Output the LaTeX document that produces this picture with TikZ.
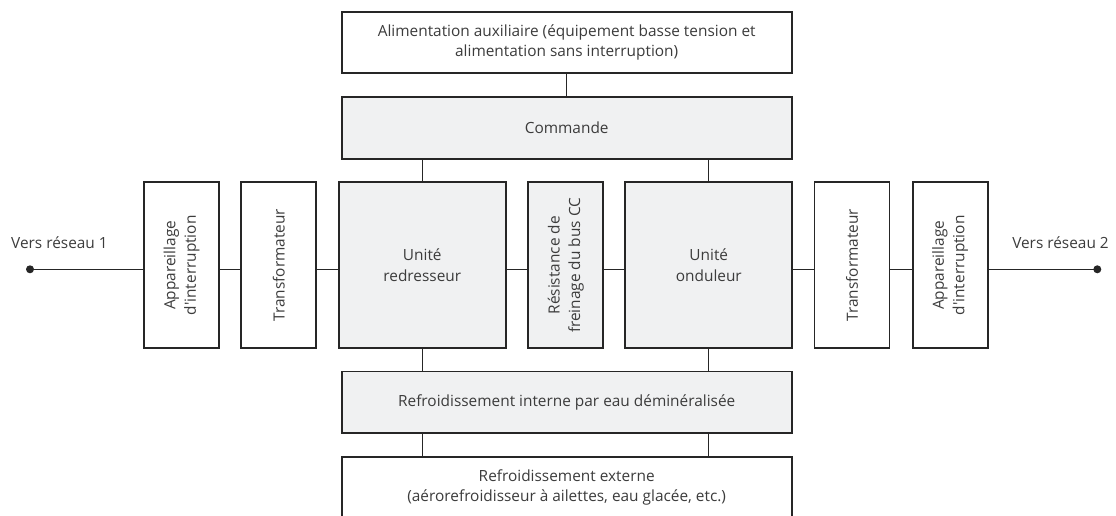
\documentclass[tikz,border=0pt]{standalone}
\usepackage{fontspec}
\setmainfont{Open Sans}
\definecolor{edge}{HTML}{262626}
\definecolor{ink}{HTML}{3C3C3C}
\definecolor{panel}{HTML}{F0F1F2}
\begin{document}
\begin{tikzpicture}[x=1pt,y=-1pt,
  every node/.style={font=\fontsize{15.4}{20.5}\selectfont, text=ink, inner sep=0pt},
  plain/.style={draw=edge, line width=1.8pt, fill=white},
  shaded/.style={draw=edge, line width=1.8pt, fill=panel},
  wide/.style={minimum width=450pt, minimum height=61.5pt},
  narrow/.style={minimum width=75pt, minimum height=166pt},
  unit/.style={minimum width=167pt, minimum height=166pt},
  vlabel/.style={rotate=90, align=center},
  wire/.style={draw=edge, line width=1.3pt},
  terminal/.style={circle, fill=edge, minimum size=8pt, inner sep=0pt}]
\useasboundingbox (0,0) rectangle (1116,515);

% stacked boxes along the middle column
\node[plain, wide, align=center] (aux) at (566.7,42.5)
  {Alimentation auxiliaire (équipement basse tension et\\alimentation sans interruption)};
\node[shaded, wide] (cmd) at (566.7,128) {Commande};
\node[shaded, wide] (cool) at (566.7,402.2) {Refroidissement interne par eau déminéralisée};
\node[plain, wide, align=center] (ext) at (566.7,487.5)
  {Refroidissement externe\\(aérorefroidisseur à ailettes, eau glacée, etc.)};

% power path row
\node[plain, narrow] (sw1) at (181.5,265.3) {};
\node[vlabel] (sw1t) at (sw1) {Appareillage\\d\textquotesingle interruption};
\node[plain, narrow] (tr1) at (278.8,265.3) {};
\node[vlabel] (tr1t) at (tr1) {Transformateur};
\node[shaded, unit, align=center] (rect) at (422.3,265.3) {Unité\\redresseur};
\node[shaded, narrow] (res) at (565.7,265.3) {};
\node[vlabel] (rest) at (res) {Résistance de\\freinage du bus CC};
\node[shaded, unit, align=center] (inv) at (708.8,265.3) {Unité\\onduleur};
\node[plain, narrow] (tr2) at (852,265.3) {};
\node[vlabel] (tr2t) at (tr2) {Transformateur};
\node[plain, narrow] (sw2) at (950.2,265.3) {};
\node[vlabel] (sw2t) at (sw2) {Appareillage\\d\textquotesingle interruption};

% grid terminals
\node[terminal] (d1) at (30,269.3) {};
\node[terminal] (d2) at (1097.3,269.3) {};
\node[anchor=west] (l1) at (11,243) {Vers réseau 1};
\node[anchor=east] (l2) at (1109,243) {Vers réseau 2};

% horizontal links
\draw[wire] (d1.center) -- (d1 -| sw1.west);
\draw[wire] (sw1.east |- d1) -- (tr1.west |- d1);
\draw[wire] (tr1.east |- d1) -- (rect.west |- d1);
\draw[wire] (rect.east |- d1) -- (res.west |- d1);
\draw[wire] (res.east |- d1) -- (inv.west |- d1);
\draw[wire] (inv.east |- d1) -- (tr2.west |- d1);
\draw[wire] (tr2.east |- d1) -- (sw2.west |- d1);
\draw[wire] (sw2.east |- d2) -- (d2.center);

% vertical links
\draw[wire] (aux.south) -- (cmd.north);
\draw[wire] (cmd.south -| rect) -- (rect.north);
\draw[wire] (cmd.south -| inv) -- (inv.north);
\draw[wire] (rect.south) -- (cool.north -| rect);
\draw[wire] (inv.south) -- (cool.north -| inv);
\draw[wire] (cool.south -| rect) -- (ext.north -| rect);
\draw[wire] (cool.south -| inv) -- (ext.north -| inv);
\end{tikzpicture}
\end{document}
